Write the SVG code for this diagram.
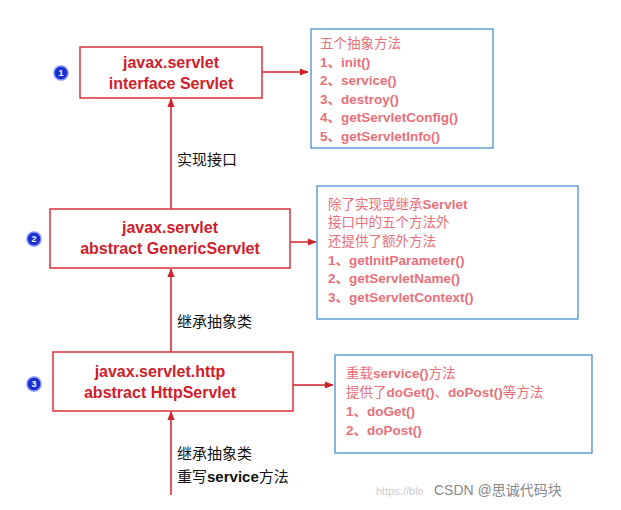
<svg xmlns="http://www.w3.org/2000/svg" width="621" height="510" viewBox="0 0 621 510">
<style>
.box{fill:#fff;stroke:#d9303a;stroke-width:1.5}
.note{fill:#fff;stroke:#3a86c8;stroke-width:1.2}
.bt{font-family:"Liberation Sans","Noto Sans CJK SC",sans-serif;font-size:16px;font-weight:bold;fill:#d0202a;text-anchor:middle}
.nt{font-family:"Liberation Sans","Noto Sans CJK SC",sans-serif;font-size:13.5px;font-weight:bold;fill:#e8707a}
.cj{font-weight:normal}
.lb{font-family:"Liberation Sans","Noto Sans CJK SC",sans-serif;font-size:15px;fill:#111}
.ln{stroke:#d0202a;stroke-width:1.5;fill:none}
.num{fill:#1a2fd0;stroke:#8090ff;stroke-width:1.5}
.nn{font-family:"Liberation Sans",sans-serif;font-size:9px;font-weight:bold;fill:#fff;text-anchor:middle}
</style>
<defs><marker id="a" viewBox="0 0 10 10" refX="9" refY="5" markerWidth="8" markerHeight="6" orient="auto"><path d="M0,1L10,5L0,9z" fill="#d0202a"/></marker></defs>
<rect width="621" height="510" fill="#fff"/>
<g id="connectors">
<path class="ln" d="M171,209V99" marker-end="url(#a)"/>
<path class="ln" d="M171,352V269" marker-end="url(#a)"/>
<path class="ln" d="M171,495V412" marker-end="url(#a)"/>
<path class="ln" d="M262,72H308" marker-end="url(#a)"/>
<path class="ln" d="M290,242H316" marker-end="url(#a)"/>
<path class="ln" d="M293,385H333" marker-end="url(#a)"/>
<text class="lb" x="177" y="165">实现接口</text>
<text class="lb" x="177" y="327">继承抽象类</text>
<text class="lb" x="177" y="459">继承抽象类</text>
<text class="lb" x="177" y="482">重写<tspan font-weight="bold">service</tspan>方法</text>
</g>
<g id="n1"><rect class="box" x="80" y="47" width="182" height="51"/><text class="bt" x="171" y="68">javax.servlet</text><text class="bt" x="171" y="89">interface Servlet</text><circle class="num" cx="61" cy="73" r="7"/><text class="nn" x="61" y="76">1</text></g>
<g id="n2"><rect class="box" x="50" y="209" width="240" height="59"/><text class="bt" x="170" y="233">javax.servlet</text><text class="bt" x="170" y="254">abstract GenericServlet</text><circle class="num" cx="34" cy="239" r="7"/><text class="nn" x="34" y="242">2</text></g>
<g id="n3"><rect class="box" x="53" y="352" width="240" height="59"/><text class="bt" x="160" y="377">javax.servlet.http</text><text class="bt" x="160" y="398">abstract HttpServlet</text><circle class="num" cx="34" cy="384" r="7"/><text class="nn" x="34" y="387">3</text></g>
<g id="note1"><rect class="note" x="311" y="29" width="182" height="119"/>
<text class="nt cj" x="320" y="48">五个抽象方法</text><text class="nt" x="320" y="67">1、init()</text><text class="nt" x="320" y="85">2、service()</text><text class="nt" x="320" y="104">3、destroy()</text><text class="nt" x="320" y="122">4、getServletConfig()</text><text class="nt" x="320" y="141">5、getServletInfo()</text></g>
<g id="note2"><rect class="note" x="317" y="186" width="261" height="133"/>
<text class="nt" x="328" y="209"><tspan class="cj">除了实现或继承</tspan>Servlet</text><text class="nt cj" x="328" y="227">接口中的五个方法外</text><text class="nt cj" x="328" y="246">还提供了额外方法</text><text class="nt" x="328" y="265">1、getInitParameter()</text><text class="nt" x="328" y="283">2、getServletName()</text><text class="nt" x="328" y="302">3、getServletContext()</text></g>
<g id="note3"><rect class="note" x="335" y="355" width="257" height="98"/>
<text class="nt" x="346" y="378"><tspan class="cj">重载</tspan>service()<tspan class="cj">方法</tspan></text><text class="nt" x="346" y="397"><tspan class="cj">提供了</tspan>doGet()<tspan class="cj">、</tspan>doPost()<tspan class="cj">等方法</tspan></text><text class="nt" x="346" y="416">1、doGet()</text><text class="nt" x="346" y="435">2、doPost()</text></g>
<text x="376" y="495" font-family="Liberation Sans,sans-serif" font-size="11" fill="#ccc">https://blo</text>
<text x="434" y="495" font-family="Liberation Sans,Noto Sans CJK SC,sans-serif" font-size="14" fill="#888">CSDN @思诚代码块</text>
</svg>
